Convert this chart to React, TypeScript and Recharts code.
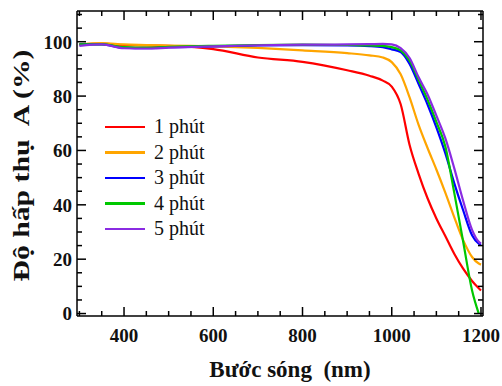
import React from 'react';
import { LineChart, Line, XAxis, YAxis, Legend, Label } from 'recharts';

// Wavelength grid (nm) and absorbance (%)
const wavelengths = [300, 350, 400, 450, 500, 600, 700, 800, 900, 950, 980, 1000, 1020, 1040, 1060, 1080, 1100, 1120, 1140, 1160, 1180, 1195, 1200];
const min1 = [99, 99.3, 98.8, 98.6, 98.5, 97.3, 94.2, 92.6, 89.5, 87.5, 85.7, 83.5, 77, 62, 51.5, 42.5, 35, 28.5, 22, 16.5, 12, 9.3, 8.5];
const min2 = [99, 99.5, 99, 98.8, 98.6, 98.3, 97.7, 96.8, 95.8, 95, 94.2, 92.5, 88, 79.5, 69.5, 61, 53, 44.5, 35.5, 27, 20.8, 18.4, 18];
const min3 = [99, 99, 97.8, 97.6, 98, 98.3, 98.6, 98.7, 98.6, 98.4, 98, 97.2, 96.2, 91.8, 84.5, 77, 68.5, 59, 48, 38, 28.8, 25.7, 25.2];
const min4 = [99, 99, 98, 97.8, 98.1, 98.5, 98.8, 98.9, 98.8, 98.6, 98.5, 98, 96.8, 93, 86, 78.8, 70.5, 61.5, 44.5, 26.5, 8.5, 0, null];
const min5 = [98.5, 99, 97.6, 97.5, 97.8, 98.3, 98.7, 98.9, 99, 99.1, 99.2, 99, 97.6, 94, 87, 80.7, 72.8, 64.5, 53.5, 41.5, 30.8, 26.4, 25.7];

const seriesNames = ['1 phút', '2 phút', '3 phút', '4 phút', '5 phút'];
const seriesValues = [min1, min2, min3, min4, min5];
const COLORS = ['#ff0000', '#ffa500', '#0000ff', '#00c800', '#8a2be2'];

const xMajor = [400, 600, 800, 1000, 1200];
const xTicks = [300, 350, 400, 450, 500, 550, 600, 650, 700, 750, 800, 850, 900, 950, 1000, 1050, 1100, 1150, 1200];
const yMajor = [0, 20, 40, 60, 80, 100];
const yTicks = [0, 5, 10, 15, 20, 25, 30, 35, 40, 45, 50, 55, 60, 65, 70, 75, 80, 85, 90, 95, 100, 105, 110];

const data = wavelengths.map((wl, i) => {
  const row: Record<string, number | null> = { wl };
  seriesNames.forEach((n, k) => {
    row[n] = seriesValues[k][i];
  });
  return row;
});

const FONT = '"Liberation Serif", "Times New Roman", serif';
const X_DOMAIN = [294.6, 1204.5];
const Y_DOMAIN = [-0.9, 111.3];

const BottomTick = (props: any) => {
  const { x, y, payload } = props;
  const major = xMajor.includes(payload.value);
  return (
    <g>
      <line x1={x} x2={x} y1={y} y2={y - (major ? 9 : 5)} stroke="#000" strokeWidth={1.5} />
      {major && (
        <text x={x} y={y + 26} textAnchor="middle" fontFamily={FONT} fontWeight="bold" fontSize={19} fill="#111">
          {payload.value}
        </text>
      )}
    </g>
  );
};

const TopTick = (props: any) => {
  const { x, y, payload } = props;
  const major = xMajor.includes(payload.value);
  return <line x1={x} x2={x} y1={y} y2={y + (major ? 9 : 5)} stroke="#000" strokeWidth={1.5} />;
};

const LeftTick = (props: any) => {
  const { x, y, payload } = props;
  const major = yMajor.includes(payload.value);
  return (
    <g>
      <line x1={x} x2={x + (major ? 9 : 5)} y1={y} y2={y} stroke="#000" strokeWidth={1.5} />
      {major && (
        <text x={x - 5} y={y} dy="0.36em" textAnchor="end" fontFamily={FONT} fontWeight="bold" fontSize={19} fill="#111">
          {payload.value}
        </text>
      )}
    </g>
  );
};

const RightTick = (props: any) => {
  const { x, y, payload } = props;
  const major = yMajor.includes(payload.value);
  return <line x1={x} x2={x - (major ? 9 : 5)} y1={y} y2={y} stroke="#000" strokeWidth={1.5} />;
};

const LegendBox = () => (
  <div style={{ fontFamily: FONT, fontSize: 20, color: '#111' }}>
    {seriesNames.map((n, i) => (
      <div key={n} style={{ display: 'flex', alignItems: 'center', height: 25.5 }}>
        <div style={{ width: 40, height: 2.5, background: COLORS[i], marginRight: 9 }} />
        <span style={{ whiteSpace: 'pre' }}>{n}</span>
      </div>
    ))}
  </div>
);

const App = () => (
  <div style={{ position: 'absolute', left: 0, top: 0, width: 502, height: 386, background: '#fff' }}>
    <LineChart width={502} height={386} data={data} margin={{ top: 10, right: 18, bottom: 0, left: 0 }}>
      <XAxis
        dataKey="wl"
        type="number"
        domain={X_DOMAIN}
        ticks={xTicks}
        interval={0}
        allowDataOverflow
        height={70}
        tickSize={0}
        tickMargin={0}
        tickLine={false}
        tick={<BottomTick />}
        axisLine={{ stroke: '#000', strokeWidth: 1.5 }}
      >
        <Label
          content={(p: any) => {
            const vb = p.viewBox;
            const cx = vb.x + vb.width / 2 + 10;
            return (
              <text x={cx} y={vb.y + 61} textAnchor="middle" fontFamily={FONT} fontWeight="bold" fontSize={23} fill="#111" style={{ whiteSpace: 'pre' }}>
                {'Bước sóng  (nm)'}
              </text>
            );
          }}
        />
      </XAxis>
      <XAxis
        xAxisId="top"
        orientation="top"
        dataKey="wl"
        type="number"
        domain={X_DOMAIN}
        ticks={xTicks}
        interval={0}
        allowDataOverflow
        height={1}
        tickSize={0}
        tickMargin={0}
        tickLine={false}
        tick={<TopTick />}
        axisLine={{ stroke: '#000', strokeWidth: 1.5 }}
      />
      <YAxis
        type="number"
        domain={Y_DOMAIN}
        ticks={yTicks}
        interval={0}
        allowDataOverflow
        width={77}
        tickSize={0}
        tickMargin={0}
        tickLine={false}
        tick={<LeftTick />}
        axisLine={{ stroke: '#000', strokeWidth: 1.5 }}
      >
        <Label
          content={(p: any) => {
            const vb = p.viewBox;
            const cx = 21;
            const cy = vb.y + vb.height / 2 + 2;
            return (
              <text
                x={cx}
                y={cy}
                dy="0.35em"
                transform={`rotate(-90, ${cx}, ${cy})`}
                textAnchor="middle"
                fontFamily={FONT}
                fontWeight="bold"
                fontSize={24}
                fill="#111"
                textLength={232}
                lengthAdjust="spacingAndGlyphs"
                style={{ whiteSpace: 'pre' }}
              >
                {'Độ hấp thụ  A (%)'}
              </text>
            );
          }}
        />
      </YAxis>
      <YAxis
        yAxisId="right"
        orientation="right"
        type="number"
        domain={Y_DOMAIN}
        ticks={yTicks}
        interval={0}
        allowDataOverflow
        width={1}
        tickSize={0}
        tickMargin={0}
        tickLine={false}
        tick={<RightTick />}
        axisLine={{ stroke: '#000', strokeWidth: 1.5 }}
      />
      <Legend
        layout="horizontal"
        verticalAlign="middle"
        align="center"
        wrapperStyle={{ left: 105, top: 114, width: 130 }}
        content={<LegendBox />}
      />
      {seriesNames.map((n, i) => (
        <Line
          key={n}
          dataKey={n}
          type="monotone"
          stroke={COLORS[i]}
          strokeWidth={2.2}
          dot={false}
          connectNulls={false}
          isAnimationActive={false}
        />
      ))}
    </LineChart>
  </div>
);

export default App;
